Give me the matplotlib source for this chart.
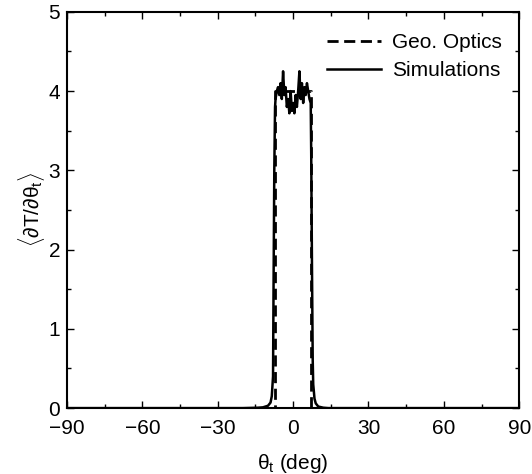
import numpy as np
import matplotlib.pyplot as plt
from matplotlib.ticker import MultipleLocator

plt.rcParams['font.family'] = ['Liberation Sans', 'DejaVu Sans']
plt.rcParams['mathtext.fontset'] = 'custom'
plt.rcParams['mathtext.rm'] = 'Liberation Sans'
plt.rcParams['mathtext.it'] = 'Liberation Sans'
plt.rcParams['mathtext.sf'] = 'Liberation Sans'

# geometric optics: flat top of height 4 between +-7.16 deg
geo_theta = [-90, -7.16, -7.16, 7.16, 7.16, 90]
geo_val = [0, 0, 4, 4, 0, 0]

# simulation curve
sim_theta = [-90, -20, -14, -12, -10, -9, -8.5, -8, -7.8, -7.5, -7.2, -7, -6.5, -6,
             -5.5, -5, -4.5, -4, -3.5, -3, -2.5, -2, -1.5, -1, -0.5, 0, 0.5, 1,
             1.5, 2, 2.5, 3, 3.5, 4, 4.5, 5, 5.5, 6, 6.5, 7, 7.2, 7.5, 7.8, 8,
             8.5, 9, 10, 12, 14, 20, 90]
sim_val = [0, 0, 0.005, 0.01, 0.03, 0.07, 0.15, 0.4, 1.5, 3.0, 3.8, 3.9, 4.0, 4.05,
           3.95, 4.1, 3.9, 4.25, 3.95, 4.05, 3.8, 3.9, 3.72, 4.0, 3.75, 3.85, 3.72, 3.95,
           3.8, 4.0, 4.25, 3.9, 4.1, 3.85, 4.05, 3.95, 4.1, 4.0, 3.9, 3.85, 3.2, 1.8, 0.6, 0.3,
           0.12, 0.06, 0.02, 0.005, 0, 0, 0]

fig = plt.figure(figsize=(5.32, 4.74), dpi=100)
ax = fig.add_axes([0.126, 0.139, 0.85, 0.836])

ax.plot(geo_theta, geo_val, color='black', linestyle=(0, (4, 2)), linewidth=2.0,
        label='Geo. Optics')
ax.plot(sim_theta, sim_val, color='black', linewidth=1.8, label='Simulations')

ax.set_xlim(-90, 90)
ax.set_ylim(0, 5)
ax.xaxis.set_major_locator(MultipleLocator(30))
ax.xaxis.set_minor_locator(MultipleLocator(15))
ax.yaxis.set_major_locator(MultipleLocator(1))
ax.yaxis.set_minor_locator(MultipleLocator(0.5))
ax.tick_params(which='both', direction='in', top=True, right=True, labelsize=15)
ax.tick_params(axis='x', pad=8)
ax.tick_params(axis='y', pad=5)
ax.tick_params(which='major', length=5, width=1)
ax.tick_params(which='minor', length=3, width=1)
for s in ax.spines.values():
    s.set_linewidth(1.5)

ax.set_xlabel(r'$\theta_t$ (deg)', fontsize=15, labelpad=10)
ax.set_ylabel(r'$\langle\partial$T/$\partial\theta_t\rangle$', fontsize=15, labelpad=1)

ax.legend(loc='upper right', bbox_to_anchor=(1.022, 1.015), frameon=False,
          fontsize=15, handlelength=2.6, handletextpad=0.55, borderaxespad=0.9,
          labelspacing=0.45)

fig.savefig('out.png', dpi=100)
